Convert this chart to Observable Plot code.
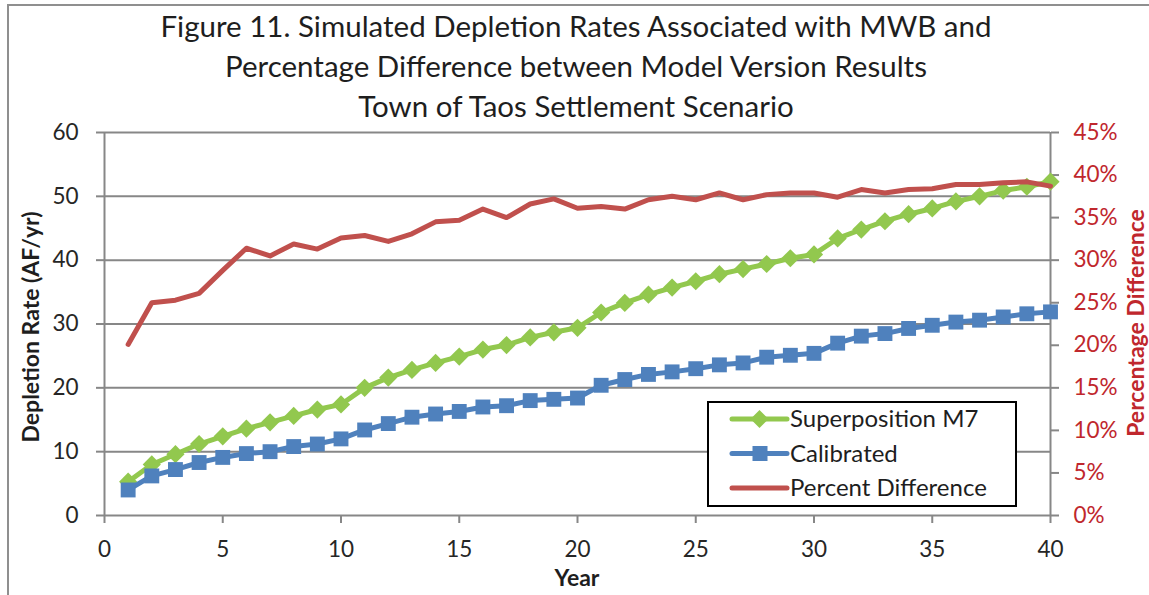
<!DOCTYPE html>
<html>
<head>
<meta charset="utf-8">
<script src="https://cdn.jsdelivr.net/npm/d3@7"></script>
<script src="https://cdn.jsdelivr.net/npm/@observablehq/plot@0.6"></script>
<style>
  body { margin: 0; background: #fff; }
  #wrap { position: relative; width: 1149px; height: 595px; overflow: hidden; font-family: Lato, "Open Sans", sans-serif; color: #222; }
  #frame { position: absolute; left: 7px; top: 4px; width: 1300px; height: 800px; border-left: 2px solid #8f8f8f; border-top: 2px solid #8f8f8f; }
  #chart { position: absolute; left: 0; top: 0; }
  #title { position: absolute; left: 0; top: 6px; width: 1152px; text-align: center; font-size: 29.5px; line-height: 40px; color: #1e1e1e; }
  .rot { position: absolute; transform: translate(-50%, -50%) rotate(-90deg); white-space: nowrap; font-weight: bold; font-size: 23px; }
  #xlab { position: absolute; left: 577px; top: 577px; transform: translate(-50%, -50%); font-weight: bold; font-size: 23px; color: #1e1e1e; }
  #legend { position: absolute; left: 707px; top: 401px; width: 306px; height: 102px; border: 2px solid #000; background: #fff; }
</style>
</head>
<body>
<div id="wrap">
  <div id="frame"></div>
  <div id="chart"></div>
  <div id="title">Figure 11. Simulated Depletion Rates Associated with MWB and<br>Percentage Difference between Model Version Results<br>Town of Taos Settlement Scenario</div>
  <div class="rot" style="left:30px; top:327px; color:#1e1e1e;">Depletion Rate (AF/yr)</div>
  <div class="rot" style="left:1135px; top:323px; color:#c0272d;">Percentage Difference</div>
  <div id="xlab">Year</div>
  <div id="legend"></div>
</div>
<script>
// ---- Data ----
const years = [1,2,3,4,5,6,7,8,9,10,11,12,13,14,15,16,17,18,19,20,21,22,23,24,25,26,27,28,29,30,31,32,33,34,35,36,37,38,39,40];
const superpositionM7 = [5.3,8.0,9.6,11.2,12.4,13.6,14.6,15.6,16.6,17.4,20.0,21.6,22.8,23.9,24.9,26.0,26.7,27.9,28.7,29.4,31.8,33.3,34.6,35.7,36.7,37.8,38.6,39.4,40.3,40.9,43.4,44.8,46.1,47.2,48.1,49.2,50.0,50.9,51.5,52.3];
const calibrated = [4.0,6.2,7.2,8.3,9.1,9.7,10.0,10.8,11.2,12.0,13.4,14.4,15.4,15.9,16.3,17.0,17.2,18.0,18.2,18.4,20.4,21.3,22.1,22.5,23.0,23.6,23.9,24.8,25.1,25.4,27.0,28.1,28.5,29.3,29.8,30.3,30.6,31.1,31.6,31.9];
const percentDifference = [20.1,25.0,25.3,26.1,28.8,31.4,30.5,31.9,31.3,32.6,32.9,32.2,33.1,34.5,34.7,36.0,35.0,36.6,37.2,36.1,36.3,36.0,37.1,37.5,37.1,37.9,37.1,37.7,37.9,37.9,37.4,38.3,37.9,38.3,38.4,38.9,38.9,39.1,39.2,38.7];

const xTicks = [0,5,10,15,20,25,30,35,40];
const yTicks = [0,10,20,30,40,50,60];
const pctTicks = [0,5,10,15,20,25,30,35,40,45];
const seriesNames = ["Superposition M7", "Calibrated", "Percent Difference"];
const colors = ["#92c84e", "#4f81bd", "#c0504d"];

// secondary axis: 0–45% mapped onto primary 0–60
const yMax = 60, pctMax = 45;
const toPrimary = p => p * yMax / pctMax;

const green = years.map((x, i) => ({x, y: superpositionM7[i]}));
const blue = years.map((x, i) => ({x, y: calibrated[i]}));
const red = years.map((x, i) => ({x, y: toPrimary(percentDifference[i])}));

const grey = "#878787";

const chart = Plot.plot({
  width: 1149,
  height: 595,
  marginLeft: 104,
  marginRight: 99,
  marginTop: 132,
  marginBottom: 80,
  style: { fontFamily: "Lato, 'Open Sans', sans-serif", fontSize: "22px", background: "transparent", overflow: "visible" },
  x: { domain: [0, 40] },
  y: { domain: [0, yMax] },
  marks: [
    Plot.ruleY(yTicks.filter(d => d > 0), { stroke: grey, strokeWidth: 2 }),
    Plot.ruleY([0], { stroke: grey, strokeWidth: 2 }),
    Plot.ruleX([0], { stroke: grey, strokeWidth: 2 }),
    Plot.ruleX([40], { stroke: grey, strokeWidth: 2 }),
    Plot.axisY(yTicks, { anchor: "left", tickSize: 8, tickPadding: 18, stroke: grey, strokeWidth: 2, fill: "#262626", fontSize: 22.5, label: null }),
    Plot.axisY(pctTicks.map(toPrimary), { anchor: "right", tickSize: 8, tickPadding: 15, stroke: grey, strokeWidth: 2, fill: "#c0272d", fontSize: 22.5, label: null,
      tickFormat: d => Math.round(d * pctMax / yMax) + "%" }),
    Plot.axisX(xTicks, { anchor: "bottom", tickSize: 8, tickPadding: 18, stroke: grey, strokeWidth: 2, fill: "#262626", fontSize: 22.5, label: null }),
    Plot.line(green, { x: "x", y: "y", stroke: colors[0], strokeWidth: 5, strokeLinejoin: "round", strokeLinecap: "round" }),
    Plot.dot(green, { x: "x", y: "y", symbol: "diamond2", r: 8.2, fill: colors[0], stroke: "none" }),
    Plot.line(blue, { x: "x", y: "y", stroke: colors[1], strokeWidth: 5, strokeLinejoin: "round", strokeLinecap: "round" }),
    Plot.dot(blue, { x: "x", y: "y", symbol: "square", r: 8.4, fill: colors[1], stroke: "none" }),
    Plot.line(red, { x: "x", y: "y", stroke: colors[2], strokeWidth: 5, strokeLinejoin: "round", strokeLinecap: "round" })
  ]
});
document.getElementById("chart").appendChild(chart);

// Legend
const ns = "http://www.w3.org/2000/svg";
const lg = document.createElementNS(ns, "svg");
lg.setAttribute("width", 306);
lg.setAttribute("height", 102);
const rowsY = [16, 50.5, 85];
seriesNames.forEach((name, i) => {
  const y = rowsY[i];
  const line = document.createElementNS(ns, "line");
  line.setAttribute("x1", 23); line.setAttribute("x2", 78);
  line.setAttribute("y1", y); line.setAttribute("y2", y);
  line.setAttribute("stroke", colors[i]); line.setAttribute("stroke-width", 5);
  line.setAttribute("stroke-linecap", "round");
  lg.appendChild(line);
  if (i === 0) {
    const p = document.createElementNS(ns, "polygon");
    p.setAttribute("points", `50.5,${y-9} 59.5,${y} 50.5,${y+9} 41.5,${y}`);
    p.setAttribute("fill", colors[0]);
    lg.appendChild(p);
  } else if (i === 1) {
    const r = document.createElementNS(ns, "rect");
    r.setAttribute("x", 43.5); r.setAttribute("y", y - 7.5);
    r.setAttribute("width", 15); r.setAttribute("height", 15);
    r.setAttribute("fill", colors[1]);
    lg.appendChild(r);
  }
  const t = document.createElementNS(ns, "text");
  t.setAttribute("x", 81); t.setAttribute("y", y + 8);
  t.setAttribute("font-family", "Lato, 'Open Sans', sans-serif");
  t.setAttribute("font-size", 24);
  t.setAttribute("fill", "#1e1e1e");
  t.textContent = name;
  lg.appendChild(t);
});
document.getElementById("legend").appendChild(lg);
</script>
</body>
</html>
